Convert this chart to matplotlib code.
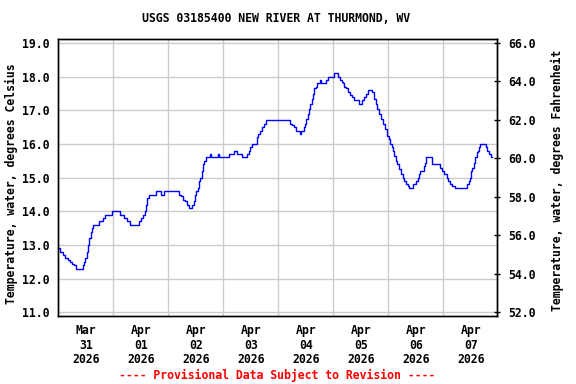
import matplotlib
matplotlib.use("Agg")
import matplotlib.pyplot as plt
import numpy as np

# ---- data (hours since 2026-03-31 00:00, water temperature in deg C) ----
hours = [0.0, 0.7, 2.2, 3.1, 4.1, 5.1, 6.0, 6.9, 7.7, 10.6, 11.2, 11.8, 12.4, 13.0,
         13.5, 14.1, 14.6, 15.3, 17.9, 19.6, 20.5, 23.5, 27.0, 28.8, 30.1, 31.2,
         35.1, 36.1, 37.1, 37.7, 38.2, 38.8, 39.4, 42.6, 45.0, 46.3,
         52.7, 53.6, 54.4, 55.3, 56.2, 57.0, 58.5, 59.1, 59.7, 60.2, 60.8, 61.4,
         62.0, 62.6, 63.2, 63.7, 64.6, 66.3, 66.6, 69.8, 70.2, 74.6, 76.7, 78.0,
         80.0, 82.4, 83.0, 83.8, 84.7, 86.7, 87.3, 87.9, 88.8, 89.6, 90.8,
         101.1, 102.1, 103.0, 103.9, 105.6, 105.9, 107.1, 107.7, 108.3, 108.8,
         109.4, 110.0, 110.6, 111.2, 111.7, 112.3, 112.9, 114.3, 114.6, 116.7,
         117.6, 120.3, 121.9, 122.8, 123.7, 124.2, 124.8, 125.4, 126.3, 127.2,
         128.3, 129.2, 131.2, 132.7, 133.6, 134.4, 135.3, 137.0, 137.6, 138.5,
         139.1, 140.0, 140.8, 141.7, 142.6, 143.5, 144.3,
         144.9, 145.5, 146.1, 146.7, 147.3, 147.8, 148.7, 149.6, 150.2, 151.0,
         151.9, 152.5, 153.1, 154.8, 156.3, 156.9, 157.4, 158.0, 159.5, 160.1,
         160.6, 163.0, 166.7, 167.6, 168.5, 169.4, 170.2, 171.1, 172.0, 172.9,
         178.4, 179.0, 179.5, 180.1, 180.7, 181.3, 181.9, 182.5, 183.0, 183.6,
         184.2, 186.5, 187.1, 188.0, 188.9, 189.4]
temps = [12.9, 12.8, 12.7, 12.6, 12.55, 12.5, 12.45, 12.4, 12.3, 12.4, 12.5, 12.6, 12.8, 13.0,
         13.2, 13.4, 13.5, 13.6, 13.7, 13.8, 13.9, 14.0, 13.9, 13.8, 13.7, 13.6,
         13.7, 13.8, 13.9, 14.0, 14.2, 14.4, 14.5, 14.6, 14.5, 14.6,
         14.5, 14.45, 14.35, 14.3, 14.2, 14.1, 14.2, 14.3, 14.5, 14.6, 14.7, 14.9,
         15.0, 15.2, 15.4, 15.5, 15.6, 15.7, 15.6, 15.7, 15.6, 15.7, 15.8, 15.7,
         15.6, 15.7, 15.8, 15.9, 16.0, 16.2, 16.3, 16.4, 16.5, 16.6, 16.7,
         16.6, 16.55, 16.5, 16.4, 16.3, 16.4, 16.5, 16.6, 16.75, 16.9,
         17.05, 17.2, 17.35, 17.5, 17.65, 17.7, 17.8, 17.9, 17.8, 17.9,
         18.0, 18.1, 18.0, 17.9, 17.85, 17.8, 17.7, 17.65, 17.55, 17.45,
         17.4, 17.3, 17.2, 17.3, 17.4, 17.5, 17.6, 17.55, 17.35, 17.2,
         17.05, 16.9, 16.75, 16.6, 16.45, 16.25, 16.15,
         16.0, 15.9, 15.8, 15.65, 15.5, 15.4, 15.25, 15.1, 15.0, 14.9,
         14.8, 14.75, 14.7, 14.8, 14.9, 15.0, 15.1, 15.2, 15.35, 15.45,
         15.6, 15.4, 15.3, 15.2, 15.1, 15.0, 14.9, 14.8, 14.75, 14.7,
         14.8, 14.9, 15.0, 15.2, 15.3, 15.45, 15.6, 15.75, 15.8, 15.9,
         16.0, 15.9, 15.8, 15.7, 15.6, 15.6]

day_labels = ["Mar\n31\n2026", "Apr\n01\n2026", "Apr\n02\n2026", "Apr\n03\n2026",
              "Apr\n04\n2026", "Apr\n05\n2026", "Apr\n06\n2026", "Apr\n07\n2026"]
c_ticks = [11.0, 12.0, 13.0, 14.0, 15.0, 16.0, 17.0, 18.0, 19.0]
f_ticks = [52.0, 54.0, 56.0, 58.0, 60.0, 62.0, 64.0, 66.0]

title = "USGS 03185400 NEW RIVER AT THURMOND, WV"
footer = "---- Provisional Data Subject to Revision ----"

# ---- figure ----
FONT = "DejaVu Sans Mono"
FS = 8.3
fig = plt.figure(figsize=(5.76, 3.84), dpi=100)
ax = fig.add_axes([58.3 / 576, 1 - 315.7 / 384, 438.4 / 576, 276.4 / 384])

ax.plot(hours, temps, color="#0000ff", lw=1.0, drawstyle="steps-post")

c_lo, c_hi = 10.9, 19.11
ax.set_ylim(c_lo, c_hi)
ax.set_xlim(0, 191.3)

ax.set_yticks(c_ticks)
ax.set_yticklabels([f"{v:.1f}" for v in c_ticks], fontfamily=FONT,
                   fontweight="bold", fontsize=FS)
ax.set_xticks([24 * i + 12 for i in range(len(day_labels))])
ax.set_xticklabels(day_labels, fontfamily=FONT, fontweight="bold",
                   fontsize=FS, linespacing=1.15)
ax.set_xticks([24 * i for i in range(1, len(day_labels))], minor=True)
ax.tick_params(axis="x", which="both", length=0, pad=6)
ax.tick_params(axis="y", length=0, pad=6)

ax.grid(True, axis="y", color="#cccccc", lw=1.0)
ax.grid(True, axis="x", which="minor", color="#cccccc", lw=1.0)
ax.grid(False, axis="x", which="major")
ax.set_axisbelow(True)
for s in ax.spines.values():
    s.set_linewidth(1.0)
    s.set_color("black")

ax.set_ylabel("Temperature, water, degrees Celsius", fontfamily=FONT,
              fontweight="bold", fontsize=FS)
ax.yaxis.set_label_coords(-0.092, 0.476)

ax2 = ax.twinx()
f_lo = 52 + (c_lo - 11) * 14 / 8
f_hi = 52 + (c_hi - 11) * 14 / 8
ax2.set_ylim(f_lo, f_hi)
ax2.set_yticks(f_ticks)
ax2.set_yticklabels([f"{v:.1f}" for v in f_ticks], fontfamily=FONT,
                    fontweight="bold", fontsize=FS)
ax2.tick_params(axis="y", length=4, direction="inout", width=1, pad=6)
ax2.set_ylabel("Temperature, water, degrees Fahrenheit", fontfamily=FONT,
               fontweight="bold", fontsize=FS)
ax2.yaxis.set_label_coords(1.1236, 0.49)
for s in ax2.spines.values():
    s.set_linewidth(1.0)

fig.text(276.5 / 576, 1 - 19 / 384, title, ha="center", va="center",
         fontfamily=FONT, fontweight="bold", fontsize=FS)
fig.text(277.5 / 576, 1 - 375 / 384, footer, ha="center", va="center",
         fontfamily=FONT, fontweight="bold", fontsize=FS, color="red")

fig.savefig("out.png", dpi=100)
